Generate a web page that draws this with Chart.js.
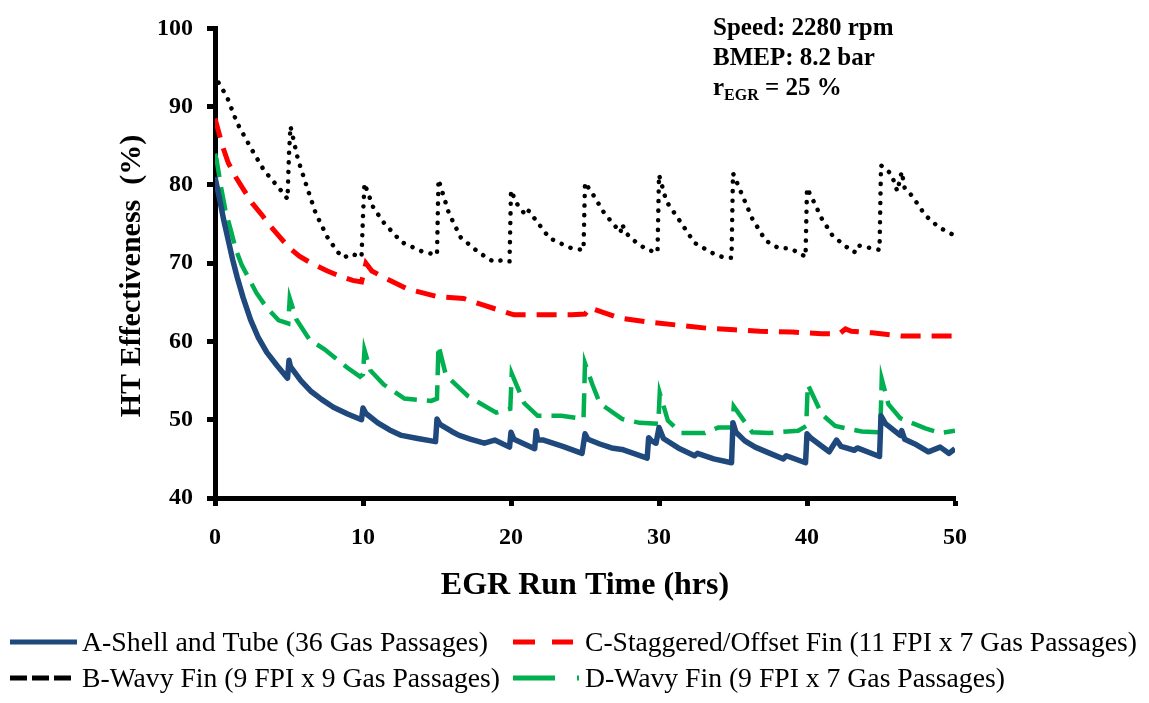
<!DOCTYPE html>
<html>
<head>
<meta charset="utf-8">
<script src="https://cdn.jsdelivr.net/npm/chart.js@4.4.0/dist/chart.umd.min.js"></script>
<style>
  body { margin: 0; background: #fff; }
  #wrap { width: 1149px; height: 703px; }
</style>
</head>
<body>
<div id="wrap"><canvas id="chartCanvas" width="1149" height="703"></canvas></div>
<script>
// EGR run time (hrs) and HT effectiveness (%) for each cooler
const timeA = [0, 0.3, 0.6, 0.9, 1.2, 1.5, 1.9, 2.4, 2.9, 3.5, 4.2, 4.9, 5.0, 5.1, 5.8, 6.5, 7.2, 8.0, 9.0, 9.9, 10.0, 10.2, 11.0, 11.8, 12.6, 13.7, 14.9, 15.0, 15.2, 16.0, 16.5, 17.3, 18.2, 18.9, 19.9, 20.0, 20.2, 21.6, 21.7, 21.8, 22.2, 23.5, 24.8, 25.0, 25.2, 26.0, 26.8, 27.5, 29.2, 29.3, 29.5, 29.8, 30.0, 30.3, 31.3, 32.4, 32.6, 33.7, 34.9, 35.0, 35.2, 35.8, 36.5, 37.5, 38.4, 38.6, 39.9, 40.0, 40.3, 41.5, 42.0, 42.3, 43.2, 43.4, 44.9, 45.0, 45.3, 46.3, 46.4, 46.6, 47.4, 48.2, 49.0, 49.6, 50.0];
const effA = [81.0, 78.3, 75.4, 72.9, 70.4, 68.2, 65.6, 62.8, 60.6, 58.6, 56.9, 55.3, 57.6, 56.8, 55.0, 53.6, 52.6, 51.6, 50.7, 50.0, 51.5, 50.8, 49.6, 48.7, 48.0, 47.6, 47.2, 50.1, 49.4, 48.5, 48.0, 47.5, 47.0, 47.4, 46.5, 48.4, 47.5, 46.3, 48.6, 47.4, 47.4, 46.6, 45.7, 48.2, 47.5, 46.9, 46.4, 46.2, 45.1, 47.7, 47.3, 47.0, 49.0, 47.6, 46.4, 45.4, 45.7, 45.0, 44.5, 49.6, 48.4, 47.3, 46.5, 45.7, 45.0, 45.4, 44.5, 48.2, 47.6, 45.9, 47.4, 46.6, 46.1, 46.4, 45.3, 50.5, 49.5, 48.0, 48.6, 47.5, 46.8, 45.9, 46.5, 45.7, 46.3];

const timeB = [0, 0.1, 0.8, 1.5, 2.4, 3.3, 4.5, 4.9, 5.0, 5.1, 5.6, 6.2, 6.8, 7.6, 8.3, 8.7, 9.2, 9.9, 10.0, 10.1, 10.7, 11.4, 12.6, 14.1, 15.0, 15.1, 15.8, 16.6, 17.8, 18.8, 19.5, 19.9, 20.0, 20.4, 21.0, 21.2, 21.6, 22.6, 23.5, 24.1, 24.9, 25.0, 25.6, 26.3, 27.1, 27.4, 27.5, 27.8, 28.3, 29.2, 29.9, 30.0, 30.5, 31.3, 32.4, 33.6, 34.4, 34.9, 35.0, 35.6, 36.3, 37.2, 38.1, 38.8, 39.5, 39.9, 40.0, 40.5, 41.0, 41.7, 42.5, 43.2, 43.4, 44.4, 44.9, 45.0, 45.7, 46.1, 46.4, 46.6, 47.1, 48.0, 48.9, 50.0];
const effB = [94.2, 93.5, 91.3, 87.9, 84.8, 81.9, 79.2, 78.2, 84.0, 87.5, 83.3, 79.8, 76.4, 73.3, 71.4, 70.7, 71.2, 70.8, 76.0, 80.2, 77.1, 75.2, 72.7, 71.4, 71.1, 80.7, 76.4, 73.3, 71.4, 70.2, 70.4, 70.2, 79.3, 77.6, 76.1, 76.7, 75.7, 73.2, 72.4, 71.9, 71.7, 80.3, 78.6, 76.4, 74.6, 73.9, 75.0, 73.8, 72.9, 71.7, 71.4, 81.3, 77.9, 75.7, 72.6, 71.3, 70.7, 70.7, 81.5, 78.8, 75.7, 72.9, 71.9, 71.9, 71.3, 70.8, 79.6, 77.7, 75.7, 73.6, 72.3, 71.4, 72.3, 71.9, 71.7, 82.5, 81.4, 79.2, 81.7, 79.6, 78.6, 76.1, 74.6, 73.5];

const timeC = [0, 0.1, 0.5, 0.9, 1.4, 1.9, 2.5, 3.2, 3.8, 4.4, 5.0, 5.7, 6.6, 7.6, 8.5, 9.3, 9.9, 10.2, 10.6, 11.4, 13.0, 15.1, 16.8, 18.2, 20.2, 22.3, 24.1, 25.0, 25.3, 27.3, 29.2, 31.2, 33.2, 35.1, 36.8, 39.0, 41.0, 42.2, 42.6, 43.0, 44.4, 46.4, 48.8, 50.0];
const effC = [88.5, 87.8, 85.0, 82.8, 81.0, 79.5, 77.7, 76.1, 74.6, 73.3, 72.0, 70.9, 69.9, 69.0, 68.3, 67.8, 67.6, 70.0, 69.0, 68.2, 66.7, 65.7, 65.5, 64.6, 63.4, 63.4, 63.4, 63.5, 64.3, 63.0, 62.5, 62.1, 61.7, 61.5, 61.3, 61.2, 61.0, 61.0, 61.6, 61.3, 61.1, 60.7, 60.7, 60.7];

const timeD = [0, 0.1, 0.4, 0.7, 1.1, 1.4, 1.8, 2.3, 2.8, 3.5, 4.3, 4.95, 5.05, 5.5, 6.4, 7.4, 8.9, 9.8, 10.0, 10.1, 10.5, 11.4, 12.8, 14.6, 15.0, 15.1, 15.6, 17.1, 19.0, 19.95, 20.05, 20.9, 21.8, 23.4, 24.9, 25.0, 25.5, 26.0, 27.5, 28.7, 29.95, 30.05, 30.6, 31.5, 33.1, 34.0, 34.95, 35.05, 36.3, 37.4, 39.4, 39.95, 40.05, 41.0, 41.9, 43.7, 44.95, 45.05, 45.5, 46.3, 48.0, 49.0, 50.0];
const effD = [84.0, 83.3, 79.8, 76.8, 74.0, 71.8, 69.8, 68.0, 66.2, 64.3, 62.7, 62.3, 65.5, 62.8, 60.2, 59.0, 56.7, 55.5, 55.8, 58.9, 56.3, 54.5, 52.7, 52.4, 52.7, 59.5, 55.7, 53.0, 50.9, 51.4, 55.9, 52.1, 50.5, 50.5, 50.1, 57.2, 54.5, 52.1, 50.1, 49.6, 49.5, 53.4, 49.9, 48.3, 48.3, 49.0, 49.0, 51.7, 48.4, 48.3, 48.6, 49.2, 54.5, 50.7, 49.2, 48.5, 48.4, 55.2, 52.0, 50.2, 48.9, 48.3, 48.6];

const seriesLabels = [
    'A-Shell and Tube (36 Gas Passages)',
    'B-Wavy Fin (9 FPI x 9 Gas Passages)',
    'C-Staggered/Offset Fin (11 FPI x 7 Gas Passages)',
    'D-Wavy Fin (9 FPI x 7 Gas Passages)'
];
const xTitle = 'EGR Run Time (hrs)';
const yTitle = 'HT Effectiveness  (%)';

const serif = "'Times New Roman', 'Liberation Serif', serif";

function toPoints(times, values) {
    return times.map((t, i) => ({ x: t, y: values[i] }));
}

// legend slots: sample line start/end, text start/end, row y
const legendSlots = [
    { x0: 10, x1: 77, tx: 82, tEnd: 488, y: 642 },
    { x0: 10, x1: 72, tx: 82, tEnd: 500, y: 678 },
    { x0: 513, x1: 573, tx: 585, tEnd: 1137, y: 642 },
    { x0: 513, x1: 579, tx: 585, tEnd: 1005, y: 678 }
];

const extrasPlugin = {
    id: 'extras',
    afterDraw(chart) {
        const ctx = chart.ctx;
        const area = chart.chartArea;
        ctx.save();
        ctx.fillStyle = '#000';

        // axis titles
        ctx.font = 'bold 32px ' + serif;
        ctx.textAlign = 'center';
        ctx.textBaseline = 'alphabetic';
        ctx.fillText(xTitle, (area.left + area.right) / 2, 594);

        ctx.save();
        ctx.translate(140, 276);
        ctx.rotate(-Math.PI / 2);
        ctx.font = 'bold 30px ' + serif;
        ctx.fillText(yTitle, 0, 0);
        ctx.restore();

        // operating condition note
        ctx.textAlign = 'left';
        ctx.font = 'bold 25px ' + serif;
        ctx.fillText('Speed: 2280 rpm', 713, 35);
        ctx.fillText('BMEP: 8.2 bar', 713, 65);
        ctx.fillText('r', 713, 95);
        let w = ctx.measureText('r').width;
        ctx.font = 'bold 16px ' + serif;
        ctx.fillText('EGR', 713 + w, 100);
        w += ctx.measureText('EGR').width;
        ctx.font = 'bold 25px ' + serif;
        ctx.fillText(' = 25 %', 713 + w, 95);

        // legend
        chart.data.datasets.forEach((ds, i) => {
            const s = legendSlots[i];
            ctx.save();
            ctx.strokeStyle = ds.borderColor;
            ctx.lineWidth = 5;
            ctx.lineCap = 'butt';
            ctx.setLineDash(ds.legendDash);
            ctx.beginPath();
            ctx.moveTo(s.x0, s.y);
            ctx.lineTo(s.x1, s.y);
            ctx.stroke();
            ctx.restore();

            ctx.save();
            ctx.font = '27px ' + serif;
            ctx.textBaseline = 'middle';
            ctx.fillStyle = '#000';
            const tw = ctx.measureText(ds.label).width;
            const sx = (s.tEnd - s.tx) / tw;
            ctx.translate(s.tx, s.y + 2);
            ctx.scale(sx, 1);
            ctx.fillText(ds.label, 0, 0);
            ctx.restore();
        });
        ctx.restore();
    }
};

const tickFont = { family: serif, size: 24, weight: 'bold' };

new Chart(document.getElementById('chartCanvas').getContext('2d'), {
    type: 'line',
    data: {
        datasets: [
            {
                label: seriesLabels[0],
                data: toPoints(timeA, effA),
                borderColor: '#1F497D',
                borderWidth: 5.5,
                borderJoinStyle: 'round',
                legendDash: []
            },
            {
                label: seriesLabels[1],
                data: toPoints(timeB, effB),
                borderColor: '#000000',
                borderWidth: 4.5,
                borderDash: [0.1, 9.5],
                borderCapStyle: 'round',
                borderJoinStyle: 'round',
                legendDash: [17, 5]
            },
            {
                label: seriesLabels[2],
                data: toPoints(timeC, effC),
                borderColor: '#FF0000',
                borderWidth: 5,
                borderDash: [20, 11],
                legendDash: [22, 17]
            },
            {
                label: seriesLabels[3],
                data: toPoints(timeD, effD),
                borderColor: '#00B050',
                borderWidth: 4.5,
                borderDash: [24, 10],
                legendDash: [42, 22, 2, 50]
            }
        ]
    },
    options: {
        responsive: false,
        animation: false,
        layout: { padding: { left: 0, top: 19, right: 194, bottom: 94 } },
        elements: {
            point: { radius: 0 },
            line: { tension: 0, fill: false }
        },
        plugins: {
            legend: { display: false },
            tooltip: { enabled: false }
        },
        scales: {
            x: {
                type: 'linear',
                min: 0,
                max: 50,
                ticks: { stepSize: 10, font: tickFont, color: '#000', padding: 17 },
                grid: { drawOnChartArea: false, drawTicks: true, tickLength: 8, tickWidth: 5, tickColor: '#000' },
                border: { display: true, width: 5, color: '#000' },
                afterFit: scale => { scale.height = 111; }
            },
            y: {
                min: 40,
                max: 100,
                ticks: { stepSize: 10, font: tickFont, color: '#000', padding: 14 },
                grid: { drawOnChartArea: false, drawTicks: true, tickLength: 8, tickWidth: 5, tickColor: '#000' },
                border: { display: true, width: 5, color: '#000' },
                afterFit: scale => { scale.width = 215; }
            }
        }
    },
    plugins: [extrasPlugin]
});
</script>
</body>
</html>
